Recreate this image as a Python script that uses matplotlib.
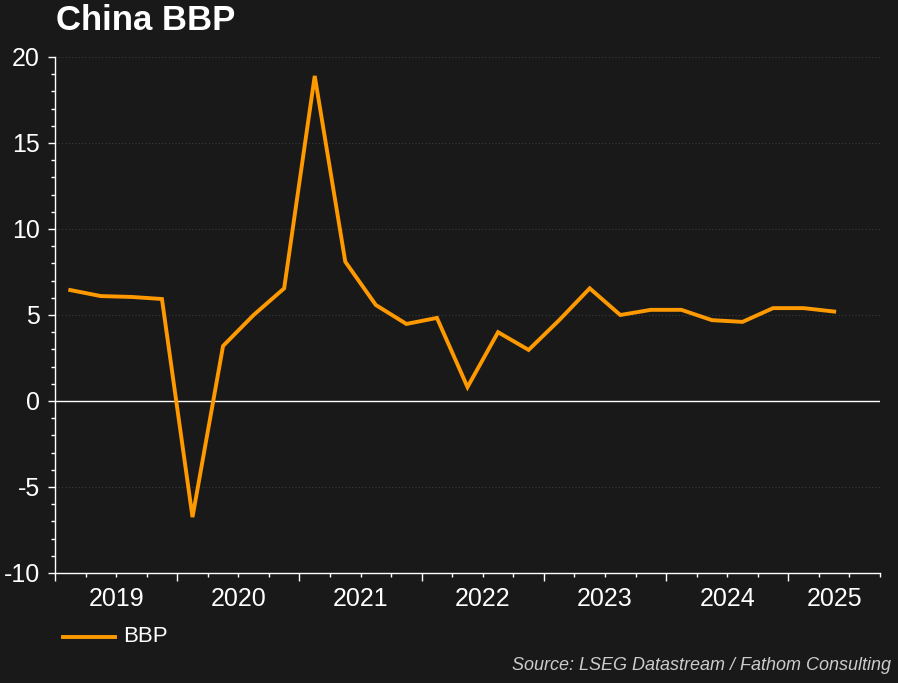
import numpy as np
import matplotlib.pyplot as plt
from matplotlib.lines import Line2D
from matplotlib.ticker import MultipleLocator

plt.rcParams['font.family'] = ['Liberation Sans', 'DejaVu Sans']
plt.rcParams['axes.unicode_minus'] = False

# Data kuartalan Q1 2019 - Q2 2025
quarters = ['2019Q1', '2019Q2', '2019Q3', '2019Q4',
            '2020Q1', '2020Q2', '2020Q3', '2020Q4',
            '2021Q1', '2021Q2', '2021Q3', '2021Q4',
            '2022Q1', '2022Q2', '2022Q3', '2022Q4',
            '2023Q1', '2023Q2', '2023Q3', '2023Q4',
            '2024Q1', '2024Q2', '2024Q3', '2024Q4',
            '2025Q1', '2025Q2']
bbp = [6.45, 6.1, 6.05, 5.93,
       -6.75, 3.2, 5.0, 6.55,
       18.9, 8.1, 5.58, 4.48,
       4.83, 0.81, 4.0, 2.97,
       4.7, 6.55, 5.0, 5.3,
       5.3, 4.7, 4.6, 5.4,
       5.4, 5.2]
years = [2019, 2020, 2021, 2022, 2023, 2024, 2025]

bg = '#191919'
orange = '#ff9900'

# Posisi x: tengah tiap kuartal dalam satuan tahun
x = [int(q[:4]) + (int(q[-1]) - 0.5) / 4 for q in quarters]
x_min, x_max = 2019, 2025.75

fig = plt.figure(figsize=(8.98, 6.83), dpi=100, facecolor=bg)
ax = fig.add_axes([55 / 898, 1 - 573 / 683, 825 / 898, 516 / 683])
ax.set_facecolor(bg)

ax.plot(x, bbp, color=orange, lw=2.8, solid_joinstyle='miter', zorder=3)
ax.axhline(0, color='white', lw=1, zorder=2)

ax.set_xlim(x_min, x_max)
ax.set_ylim(-10, 20)

# Sumbu y
ax.yaxis.set_major_locator(MultipleLocator(5))
ax.yaxis.set_minor_locator(MultipleLocator(1))
ax.tick_params(axis='y', which='major', colors='white', labelsize=18, length=5, width=1, pad=6)
ax.tick_params(axis='y', which='minor', colors='white', length=3, width=1)
ax.grid(axis='y', which='major', color='#3a3a3a', ls=(0, (1, 2)), lw=0.8)

# Sumbu x: tick tahun dan kuartal, label di tengah tahun
ax.set_xticks(years)
ax.set_xticklabels([])
ax.xaxis.set_minor_locator(MultipleLocator(0.25))
ax.tick_params(axis='x', which='major', colors='white', length=6, width=1)
ax.tick_params(axis='x', which='minor', colors='white', length=3, width=1)
for yr in years:
    lo, hi = max(yr, x_min), min(yr + 1, x_max)
    ax.text((lo + hi) / 2, -26 / 516, str(yr), transform=ax.get_xaxis_transform(),
            ha='center', va='center', color='white', fontsize=18)

for s in ['top', 'right']:
    ax.spines[s].set_visible(False)
for s in ['left', 'bottom']:
    ax.spines[s].set_color('white')
    ax.spines[s].set_linewidth(1)

fig.text(56 / 898, 1 - 20 / 683, 'China BBP', color='white', fontsize=25,
         fontweight='bold', ha='left', va='center')

# Legenda
fig.lines.append(Line2D([63 / 898, 115 / 898], [1 - 637 / 683] * 2,
                        color=orange, lw=2.8, transform=fig.transFigure))
fig.text(123 / 898, 1 - 637 / 683, 'BBP', color='white', fontsize=16,
         ha='left', va='center')

fig.text(891 / 898, 1 - 666 / 683, 'Source: LSEG Datastream / Fathom Consulting',
         color='#cccccc', fontsize=13, style='italic', ha='right', va='center')

fig.savefig('out.png', dpi=100, facecolor=bg)
